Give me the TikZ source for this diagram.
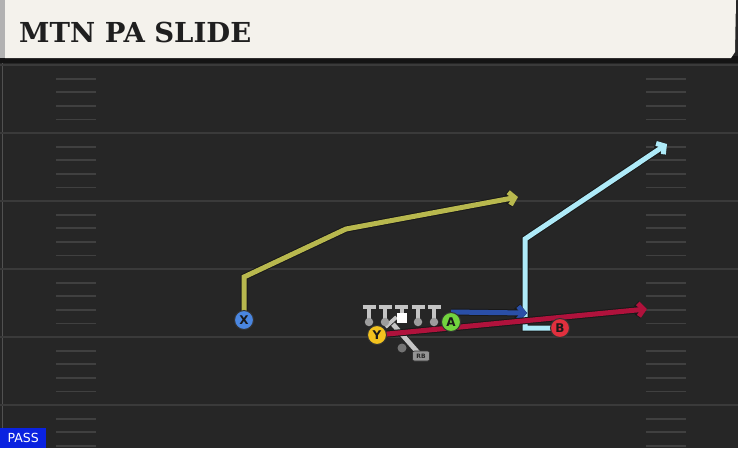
\documentclass[tikz,border=0pt]{standalone}
\usepackage{fontspec}
\setmainfont{DejaVu Sans}
\newfontfamily\titlefont{DejaVu Serif}
\usetikzlibrary{arrows.meta,calc}
\pgfdeclarelayer{fieldlayer}
\pgfdeclarelayer{routelayer}
\pgfsetlayers{fieldlayer,routelayer,main}
\definecolor{fieldbg}{HTML}{262626}
\definecolor{yardline}{HTML}{3A3A3A}
\definecolor{hashc}{HTML}{404040}
\definecolor{cream}{HTML}{F4F2EC}
\definecolor{xroute}{HTML}{B8B84E}
\definecolor{lbroute}{HTML}{AEEAF8}
\definecolor{dbroute}{HTML}{2A4FA8}
\definecolor{redroute}{HTML}{B0123C}
\definecolor{xcol}{HTML}{4A86E0}
\definecolor{ycol}{HTML}{F2C21E}
\definecolor{acol}{HTML}{72D43E}
\definecolor{bcol}{HTML}{E0303E}
\definecolor{linec}{HTML}{C4C4C4}
\definecolor{passblue}{HTML}{0A22E0}
\tikzset{
  route/.style={draw=#1, line width=5pt, line cap=butt, line join=miter,
    preaction={draw=black!90, line width=7pt}},
  tipc/.style={-{Straight Barb[length=5.5pt,width=13pt]}},
  player/.style={circle, draw=black!80, line width=1pt, fill=#1, minimum size=19pt, inner sep=0pt,
    font=\bfseries\fontsize{12}{12}\selectfont, text=black!90},
  blocker/.style={draw=linec, line width=4pt},
  hashmark/.style={draw=hashc, line width=1.8pt},
}
\begin{document}
\begin{tikzpicture}[x=1pt,y=-1pt]
\useasboundingbox (0,0) rectangle (738,448);
\begin{pgfonlayer}{fieldlayer}
% field
\fill[fieldbg] (0,0) rectangle (738,448);
\draw[draw=fieldbg!80!white, line width=1pt] (2,60) -- (2,448);
\foreach \yy in {65,133,201,269,337,405}{
  \draw[yardline, line width=2pt] (0,\yy) -- (738,\yy);
}
\foreach \i in {0,...,5}{
  \foreach \j in {1,...,4}{
    \pgfmathsetmacro{\hy}{65+68*\i+13.6*\j}
    \draw[hashmark] (56,\hy) -- (96,\hy);
    \draw[hashmark] (646,\hy) -- (686,\hy);
  }
}
% title bar
\fill[black!92] (0,56) rectangle (738,63);
\fill[cream] (5,0) -- (736,0) -- (735,52) -- (731,58) -- (5,58) -- cycle;
\fill[black!30] (0,0) rectangle (5,58);
\end{pgfonlayer}
\node[anchor=base west, inner sep=0pt, font=\titlefont\bfseries\fontsize{27.5}{27.5}\selectfont, text=black!88] (title) at (19,42) {MTN PA SLIDE};
% PASS label
\node[anchor=south west, fill=passblue, text=white, inner xsep=3pt, inner ysep=2pt, minimum width=46pt, minimum height=20pt, font=\fontsize{12.5}{12.5}\selectfont] (pass) at (0,448) {PASS};
% linemen
\foreach \lx/\nm in {369/lt,385/lg,418/rg,434/rt}{
  \draw[blocker] (\lx-6.5,307) -- (\lx+6.5,307);
  \draw[blocker] (\lx,307) -- (\lx,320);
  \node[circle, fill=linec!80!black, inner sep=0pt, minimum size=8.5pt] (\nm) at (\lx,322) {};
}
\draw[blocker] (395,307) -- (408,307);
\draw[blocker] (401.5,307) -- (401.5,313);
\node[fill=white, inner sep=0pt, minimum size=10pt] (c) at (401.5,317.5) {};
% RB
\coordinate (rbend) at (391,322);
\node[circle, fill=black!55, inner sep=0pt, minimum size=9pt] (rbdot) at (402,348) {};
\node[draw=black!80, line width=0.6pt, fill=black!42, rounded corners=2pt, inner sep=1pt, minimum width=17pt, minimum height=10pt, font=\bfseries\fontsize{6}{6}\selectfont, text=black!85] (rb) at (421,356) {RB};
\begin{pgfonlayer}{routelayer}
\draw[draw=black!85, line width=6.5pt] (rb.center) -- (rbend);
\draw[draw=linec, line width=4.8pt] (rb.center) -- (rbend);
\draw[draw=black!85, line width=5.5pt] ($(rbend)+(-5.5,5)$) -- ($(rbend)+(5.5,-5)$);
\draw[draw=linec, line width=3.8pt] ($(rbend)+(-5.5,5)$) -- ($(rbend)+(5.5,-5)$);
\end{pgfonlayer}
% players
\node[player=xcol] (X) at (244,320) {X};
\node[player=ycol] (Y) at (377,335) {Y};
\node[player=acol] (A) at (451,322) {A};
\node[player=bcol] (B) at (560,328) {B};
% routes
\begin{pgfonlayer}{routelayer}
\coordinate (x1) at (244,277);
\coordinate (x2) at (346,229);
\coordinate (xend) at (518,197);
\draw[route=xroute, tipc] (X.center) -- (x1) -- (x2) -- (xend);
\coordinate (b1) at (525,328);
\coordinate (b2) at (525,239);
\coordinate (bend) at (667,144);
\draw[route=lbroute, tipc] (B.center) -- (b1) -- (b2) -- (bend);
\coordinate (aend) at (527,313);
\draw[route=dbroute, tipc] (A.north) -- (aend);
\coordinate (yend) at (647,309);
\draw[route=redroute, tipc] (Y.center) -- (yend);
\end{pgfonlayer}
\end{tikzpicture}
\end{document}
